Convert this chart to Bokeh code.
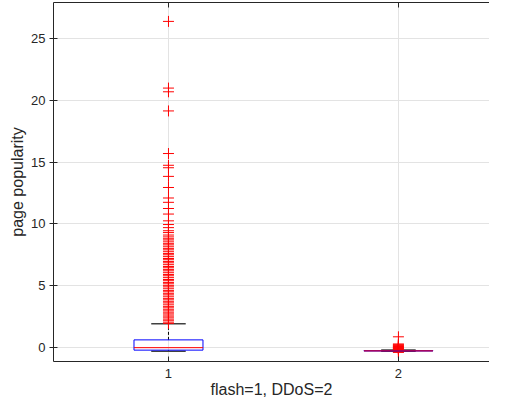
from bokeh.plotting import figure
from bokeh.models import LinearAxis, FixedTicker, Range1d
from bokeh.embed import file_html
from bokeh.resources import INLINE

# --- data ---
groups = [1, 2]
q1 = [-0.22, -0.29]
median = [-0.02, -0.28]
q3 = [0.61, -0.26]
whisker_low = [-0.30, -0.32]
whisker_high = [1.91, -0.20]

outliers_g1 = [26.4, 21.0, 20.7, 19.15, 15.7, 14.75, 14.55, 13.85, 12.95, 12.1, 11.75,
               11.25, 10.8, 10.25, 9.95, 9.7, 9.45, 9.3, 9.1, 8.95, 8.8, 8.7, 8.55, 8.4,
               8.3, 8.15, 8.0, 7.9, 7.75, 7.6, 7.5, 7.35, 7.2, 7.1, 6.95, 6.85, 6.7, 6.55,
               6.45, 6.3, 6.2, 6.05, 5.9, 5.8, 5.65, 5.5, 5.4, 5.25, 5.15, 5.0, 4.9, 4.75,
               4.6, 4.5, 4.35, 4.25, 4.1, 3.95, 3.85, 3.7, 3.6, 3.45, 3.3, 3.2, 3.05, 2.95,
               2.8, 2.7, 2.55, 2.45, 2.3, 2.2, 2.05, 1.95]
outliers_g2 = [0.86, 0.28, 0.22, 0.17, 0.12, 0.08, 0.04, 0.0, -0.04, -0.08, -0.12,
               -0.16, -0.37, -0.40]

y_ticks = [0, 5, 10, 15, 20, 25]
x_label = "flash=1, DDoS=2"
y_label = "page popularity"

box_w = 0.3
cap_w = 0.15
FONT = "Liberation Sans"
TXT = "#262626"

p = figure(width=489, height=400, output_backend="svg", toolbar_location=None,
           x_range=Range1d(0.5, 2.396), y_range=Range1d(-1.14, 27.93),
           min_border_left=53, min_border_right=0, min_border_top=2,
           min_border_bottom=39)
p.outline_line_color = None
p.background_fill_color = "white"
p.border_fill_color = "white"

# grid
p.xgrid.ticker = FixedTicker(ticks=groups)
p.ygrid.ticker = FixedTicker(ticks=y_ticks)
for g in (p.xgrid, p.ygrid):
    g.grid_line_color = "#e3e3e3"
    g.grid_line_width = 1

# axes
p.xaxis.ticker = FixedTicker(ticks=groups)
p.yaxis.ticker = FixedTicker(ticks=y_ticks)
p.xaxis.axis_label = x_label
p.yaxis.axis_label = y_label
for ax in (p.xaxis, p.yaxis):
    ax.axis_line_color = TXT
    ax.major_tick_line_color = TXT
    ax.minor_tick_line_color = None
    ax.major_label_text_font = FONT
    ax.major_label_text_font_size = "13px"
    ax.major_label_text_color = TXT
    ax.axis_label_text_font = FONT
    ax.axis_label_text_font_size = "16px"
    ax.axis_label_text_font_style = "normal"
    ax.axis_label_text_color = TXT
p.xaxis.major_tick_in = 5
p.xaxis.major_tick_out = 0
p.xaxis.major_label_standoff = 7
p.xaxis.axis_label_standoff = 0
p.yaxis.major_tick_in = 4
p.yaxis.major_tick_out = 4
p.yaxis.major_label_standoff = 4
p.yaxis.axis_label_standoff = 2

top = LinearAxis(ticker=FixedTicker(ticks=groups))
top.major_label_overrides = {1: "", 2: ""}
top.major_label_standoff = 0
top.major_tick_in = 5
top.major_tick_out = 0
top.minor_tick_line_color = None
top.axis_line_color = TXT
top.major_tick_line_color = TXT
p.add_layout(top, "above")

# whiskers (dashed)
p.segment(x0=groups, y0=q3, x1=groups, y1=whisker_high, line_color="black",
          line_dash="3 2", line_width=1)
p.segment(x0=groups, y0=whisker_low, x1=groups, y1=q1, line_color="black",
          line_dash="3 2", line_width=1)
# caps
p.segment(x0=[g - cap_w / 2 for g in groups], y0=whisker_high,
          x1=[g + cap_w / 2 for g in groups], y1=whisker_high,
          line_color="#404040", line_width=1.5)
p.segment(x0=[g - cap_w / 2 for g in groups], y0=whisker_low,
          x1=[g + cap_w / 2 for g in groups], y1=whisker_low,
          line_color="#404040", line_width=1.5)

# outliers
p.scatter(x=[1] * len(outliers_g1), y=outliers_g1, marker="cross", size=11,
          line_color="red", line_width=1)
p.scatter(x=[2] * len(outliers_g2), y=outliers_g2, marker="cross", size=11,
          line_color="red", line_width=1)

# boxes
p.quad(left=[g - box_w / 2 for g in groups], right=[g + box_w / 2 for g in groups],
       bottom=q1, top=q3, fill_color=None, line_color="blue", line_width=1)
# medians
p.segment(x0=[g - box_w / 2 for g in groups], y0=median,
          x1=[g + box_w / 2 for g in groups], y1=median,
          line_color="red", line_width=1)

open("out.html", "w").write(file_html(p, INLINE))
